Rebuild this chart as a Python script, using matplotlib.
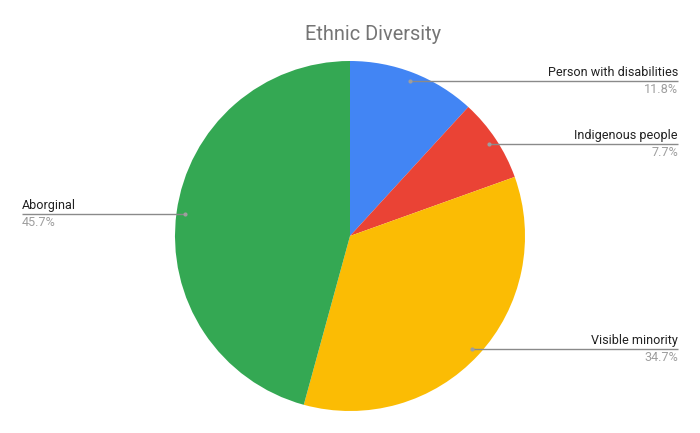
import numpy as np
import matplotlib
matplotlib.use("Agg")
import matplotlib.pyplot as plt

categories = ["Person with disabilities", "Indigenous people", "Visible minority", "Aborginal"]
values = [11.8, 7.7, 34.7, 45.7]
colors = ["#4285F4", "#EA4335", "#FBBC04", "#34A853"]
title = "Ethnic Diversity"

W, H = 700, 433
fig = plt.figure(figsize=(W / 100, H / 100), dpi=100)
ax = fig.add_axes([0, 0, 1, 1])

cx, cy, r = 350, 236, 175
# y axis is inverted (pixel-like), so counterclockwise in data = clockwise on screen
wedges, _ = ax.pie(values, colors=colors, startangle=-90, counterclock=True,
                   center=(cx, cy), radius=r, frame=True,
                   wedgeprops=dict(linewidth=0))
ax.set_xlim(0, W)
ax.set_ylim(H, 0)
ax.set_aspect("auto")
ax.axis("off")

total = sum(values)
font = "Roboto"
fs = 9.1
for cat, v, w in zip(categories, values, wedges):
    mid = (w.theta1 + w.theta2) / 2
    ang = np.deg2rad(mid)
    dx = 0.953 * r * np.cos(ang)
    dy = 0.953 * r * np.sin(ang)
    px, py = cx + dx, cy + dy
    pct = f"{v / total * 100:.1f}%"
    if dx >= 0:
        x_end = 678
        ax.plot([px, x_end], [py, py], color="#8a8a8a", lw=1, solid_capstyle="butt")
        ax.text(x_end, py - 2, cat, ha="right", va="bottom", fontsize=fs,
                color="#222222", family=font)
        ax.text(x_end, py + 2, pct, ha="right", va="top", fontsize=fs,
                color="#9e9e9e", family=font)
    else:
        x_end = 22
        ax.plot([x_end, px], [py, py], color="#8a8a8a", lw=1, solid_capstyle="butt")
        ax.text(x_end, py - 2, cat, ha="left", va="bottom", fontsize=fs,
                color="#222222", family=font)
        ax.text(x_end, py + 2, pct, ha="left", va="top", fontsize=fs,
                color="#9e9e9e", family=font)
    ax.plot(px, py, "o", color="#9e9e9e", ms=3, mec="none")

ax.text(373, 34, title, ha="center", va="center", fontsize=14.4,
        color="#757575", family=font)

fig.savefig("out.png", dpi=100)
